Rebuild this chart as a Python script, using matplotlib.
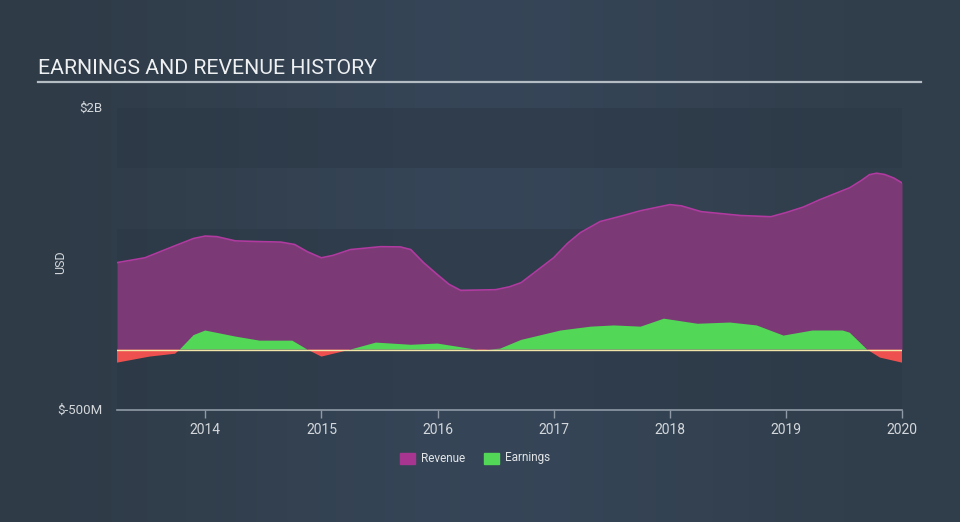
import numpy as np
import matplotlib
matplotlib.use('Agg')
import matplotlib.pyplot as plt
from matplotlib.colors import LinearSegmentedColormap

plt.rcParams['font.family'] = ['Roboto', 'DejaVu Sans']

# Revenue (USD billions)
rev_x = [2013.24, 2013.48, 2013.74, 2013.9, 2014.0, 2014.1, 2014.26, 2014.47, 2014.65,
         2014.77, 2014.88, 2015.0, 2015.1, 2015.25, 2015.51, 2015.68, 2015.77, 2015.88,
         2016.0, 2016.1, 2016.2, 2016.5, 2016.62, 2016.72, 2017.0, 2017.12,
         2017.23, 2017.4, 2017.6, 2017.75, 2017.9, 2018.0, 2018.1, 2018.27, 2018.61,
         2018.87, 2019.0, 2019.15, 2019.29, 2019.55, 2019.65, 2019.72, 2019.78,
         2019.85, 2019.93, 2020.0]
rev_y = [0.72, 0.76, 0.86, 0.92, 0.94, 0.935, 0.90, 0.894, 0.89,
         0.87, 0.81, 0.76, 0.78, 0.828, 0.852, 0.85, 0.828, 0.72,
         0.62, 0.54, 0.49, 0.496, 0.52, 0.554, 0.76, 0.88,
         0.968, 1.06, 1.11, 1.15, 1.18, 1.20, 1.19, 1.142, 1.11,
         1.10, 1.134, 1.18, 1.24, 1.34, 1.40, 1.448, 1.46,
         1.45, 1.42, 1.38]

# Earnings (USD billions)
earn_x = [2013.24, 2013.52, 2013.74, 2013.78, 2013.9, 2014.0, 2014.26, 2014.47, 2014.75,
          2014.88, 2015.0, 2015.25, 2015.47, 2015.77, 2016.0, 2016.37, 2016.54,
          2016.72, 2017.06, 2017.32, 2017.52, 2017.75, 2017.95, 2018.24, 2018.52,
          2018.75, 2018.98, 2019.23, 2019.49, 2019.55, 2019.7, 2019.81, 2020.0]
earn_y = [-0.108, -0.058, -0.034, 0.0, 0.12, 0.158, 0.108, 0.074, 0.074,
          0.0, -0.058, 0.0, 0.058, 0.04, 0.05, -0.006, 0.008,
          0.08, 0.158, 0.19, 0.20, 0.19, 0.256, 0.214, 0.224,
          0.20, 0.116, 0.158, 0.158, 0.14, 0.0, -0.066, -0.108]

years = [2014, 2015, 2016, 2017, 2018, 2019, 2020]

fig = plt.figure(figsize=(9.6, 5.22), dpi=100)

# background gradient
bg = fig.add_axes([0, 0, 1, 1], zorder=-10)
grad = np.array([[0.0, 0.5, 1.0, 0.6, 0.15]])
cmap = LinearSegmentedColormap.from_list('bg', ['#2f3b47', '#37475a'])
bg.imshow(grad, aspect='auto', cmap=cmap, extent=[0, 1, 0, 1], interpolation='bicubic')
bg.axis('off')

ax = fig.add_axes([117 / 960, 1 - 410 / 522, 785 / 960, 302 / 522])
ax.set_facecolor('none')
ax.set_xlim(2013.24, 2020.0)
ax.set_ylim(-0.5, 2.0)

# horizontal bands
for lo, hi in [(1.5, 2.0), (0.5, 1.0), (-0.5, 0.0)]:
    ax.axhspan(lo, hi, color='#2b3846', alpha=0.55, lw=0, zorder=0)

# revenue
ax.fill_between(rev_x, 0, rev_y, color='#7b3a75', lw=0, zorder=2)
ax.plot(rev_x, rev_y, color='#b03aa0', lw=1.2, zorder=3)

# earnings
ex = np.array(earn_x)
ey = np.array(earn_y)
ax.fill_between(ex, 0, ey, where=ey >= 0, interpolate=True, color='#52d856', lw=0, zorder=4)
ax.fill_between(ex, 0, ey, where=ey <= 0, interpolate=True, color='#ee5050', lw=0, zorder=4)
ax.axhline(0, color='#f2e3a6', lw=1, zorder=5)

# axes styling
for s in ['top', 'right', 'left']:
    ax.spines[s].set_visible(False)
ax.spines['bottom'].set_color('#8f9aa6')
ax.spines['bottom'].set_linewidth(1.2)
ax.set_xticks(years)
ax.set_xticklabels([str(y) for y in years])
ax.tick_params(axis='x', colors='#8f9aa6', length=6, width=1, labelcolor='#d4d8dc',
               labelsize=10, pad=3)
ax.set_yticks([])

fig.text(102 / 960, 1 - 108 / 522, '$2B', ha='right', va='center', color='#d4d8dc', fontsize=9.5)
fig.text(102 / 960, 1 - 410 / 522, '$-500M', ha='right', va='center', color='#d4d8dc', fontsize=9.5)
fig.text(61 / 960, 1 - 262 / 522, 'USD', rotation=90, ha='center', va='center',
         color='#d4d8dc', fontsize=9)

# title
fig.text(38 / 960, 1 - 69 / 522, 'EARNINGS AND REVENUE HISTORY', ha='left', va='center',
         color='#eef0f2', fontsize=15.3)
fig.add_artist(plt.Line2D([38 / 960, 921 / 960], [1 - 82 / 522, 1 - 82 / 522],
                          color='#b4bcc4', lw=1.6))

# legend
leg_y = 1 - 458 / 522
fig.patches.append(plt.Rectangle((400 / 960, leg_y - 5.5 / 522), 15 / 960, 11 / 522,
                                 transform=fig.transFigure, color='#a8358f'))
fig.text(421 / 960, leg_y, 'Revenue', ha='left', va='center', color='#e2e5e8', fontsize=8.5)
fig.patches.append(plt.Rectangle((484 / 960, leg_y - 5.5 / 522), 15 / 960, 11 / 522,
                                 transform=fig.transFigure, color='#52d856'))
fig.text(505 / 960, leg_y, 'Earnings', ha='left', va='center', color='#e2e5e8', fontsize=8.5)

fig.savefig('out.png', dpi=100)
